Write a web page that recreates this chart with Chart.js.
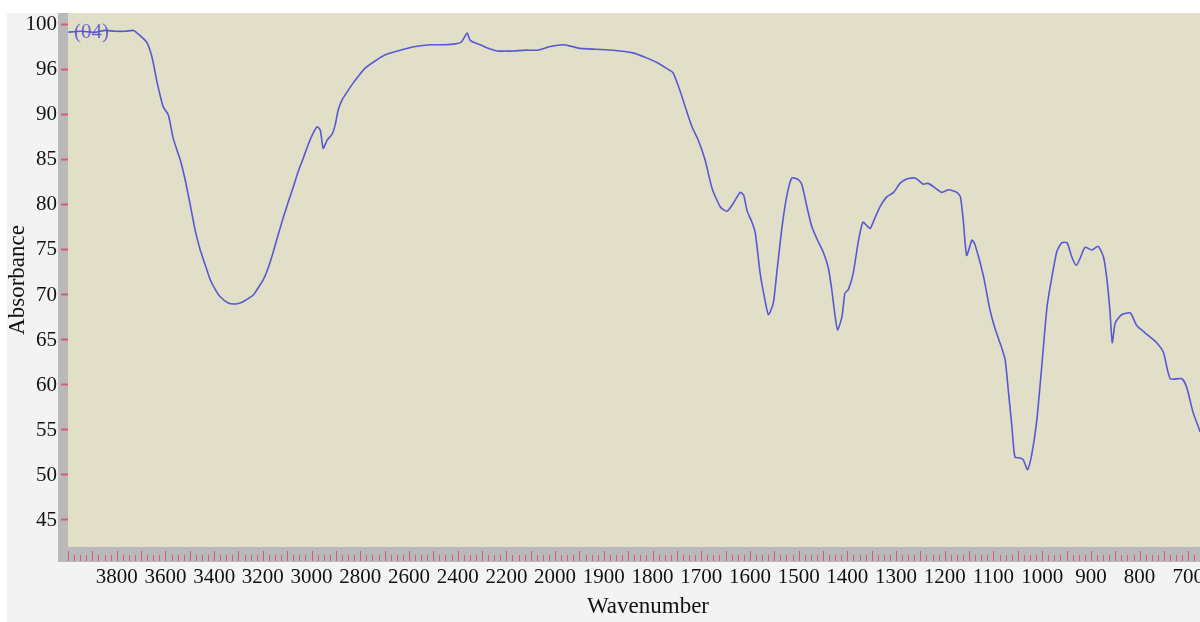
<!DOCTYPE html>
<html>
<head>
<meta charset="utf-8">
<title>FTIR spectrum (04)</title>
<script src="https://cdn.jsdelivr.net/npm/chart.js@4.4.1/dist/chart.umd.min.js"></script>
<style>
  html, body { margin: 0; padding: 0; background: #ffffff; }
  #wrap { width: 1200px; height: 622px; position: relative; }
  canvas { display: block; }
</style>
</head>
<body>
<div id="wrap"><canvas id="spectrum" width="1200" height="622"></canvas></div>
<script>
// Spectrum (04): wavenumber in cm-1, absorbance reading
const wavenumbers = [
  3998, 3950, 3888, 3847, 3806, 3765, 3732, 3716, 3695, 3675, 3654, 3634, 3609, 3588, 3568,
  3539, 3519, 3498, 3478, 3457, 3436, 3416, 3395, 3375, 3342, 3313, 3285, 3260, 3239, 3219,
  3198, 3178, 3157, 3137, 3116, 3096, 3075, 3055, 3034, 3014, 2993, 2977, 2964, 2952, 2936,
  2915, 2903, 2890, 2874, 2853, 2833, 2808, 2780, 2739, 2697, 2636, 2574, 2513, 2451, 2410,
  2385, 2373, 2361, 2349, 2328, 2307, 2275, 2238, 2205, 2172, 2123, 2073, 2020, 1983, 1965,
  1948, 1918, 1881, 1840, 1815, 1790, 1772, 1758, 1743, 1731, 1719, 1706, 1692, 1678, 1661,
  1647, 1634, 1620, 1613, 1606, 1596, 1589, 1579, 1569, 1562, 1552, 1545, 1534, 1524, 1514,
  1500, 1493, 1483, 1473, 1463, 1449, 1439, 1432, 1425, 1420, 1411, 1405, 1398, 1388, 1377,
  1368, 1360, 1353, 1343, 1333, 1319, 1305, 1292, 1278, 1261, 1251, 1244, 1234, 1220, 1206,
  1192, 1175, 1168, 1162, 1155, 1144, 1138, 1121, 1107, 1097, 1083, 1076, 1069, 1062, 1056,
  1045, 1039, 1030, 1021, 1011, 1001, 990, 980, 970, 960, 949, 939, 930, 922, 912,
  898, 885, 874, 867, 861, 856, 850, 837, 819, 806, 789, 765, 751, 737, 713,
  703, 690, 679, 676
];
const absorbance = [
  99.2, 99.3, 99.2, 99.4, 99.3, 99.3, 99.4, 99.1, 98.6, 98.0, 96.3, 93.6, 90.9, 90.0, 87.4,
  85.0, 82.8, 80.0, 77.2, 75.0, 73.3, 71.7, 70.6, 69.8, 69.1, 69.0, 69.2, 69.6, 70.0, 70.8,
  71.7, 73.0, 74.8, 76.7, 78.6, 80.3, 82.0, 83.7, 85.2, 86.7, 88.0, 88.7, 88.3, 86.3, 87.2,
  87.9, 88.9, 90.6, 91.7, 92.6, 93.4, 94.3, 95.2, 96.0, 96.7, 97.2, 97.6, 97.8, 97.8, 97.9,
  98.1, 98.6, 99.1, 98.3, 98.0, 97.8, 97.4, 97.1, 97.1, 97.1, 97.2, 97.2, 97.6, 97.8, 97.6,
  97.4, 97.3, 97.2, 96.9, 96.4, 95.8, 95.2, 94.7, 92.6, 90.6, 88.7, 87.2, 85.0, 81.9, 79.8,
  79.3, 80.2, 81.4, 81.1, 79.4, 78.1, 76.9, 72.4, 69.4, 67.8, 69.1, 72.4, 77.6, 81.1, 83.0,
  82.8, 82.2, 79.8, 77.6, 76.3, 74.7, 73.0, 70.6, 67.6, 66.1, 67.6, 70.2, 70.6, 72.4, 76.1,
  78.1, 77.7, 77.4, 78.6, 79.8, 80.9, 81.4, 82.4, 82.9, 83.0, 82.6, 82.3, 82.4, 81.9, 81.4,
  81.7, 81.4, 80.9, 78.3, 74.4, 76.1, 75.6, 72.2, 68.3, 66.3, 64.1, 62.8, 59.1, 55.3, 52.0,
  51.9, 51.7, 50.6, 52.4, 56.1, 62.0, 68.7, 72.0, 74.8, 75.8, 75.8, 74.2, 73.3, 74.1, 75.3,
  75.0, 75.4, 74.2, 71.7, 68.3, 64.7, 66.9, 67.8, 68.0, 66.6, 65.8, 64.7, 63.6, 60.7, 60.7,
  59.7, 56.9, 55.3, 54.8
];

// Axis tick labels
const xTickValues = [3800, 3600, 3400, 3200, 3000, 2800, 2600, 2400, 2200, 2000, 1900, 1800,
                     1700, 1600, 1500, 1400, 1300, 1200, 1100, 1000, 900, 800, 700];
const yTickValues = [45, 50, 55, 60, 65, 70, 75, 80, 85, 90, 95, 100];
const yTickLabels = ['45', '50', '55', '60', '65', '70', '75', '80', '85', '90', '96', '100'];
const sampleTag = '(04)';
const xTitle = 'Wavenumber';
const yTitle = 'Absorbance';

// Wavenumber axis: below the break point each unit gets twice the room of the units above it
const AXIS_BREAK = 2000;
function toAxisUnits(w) { return w <= AXIS_BREAK ? AXIS_BREAK - w : (AXIS_BREAK - w) / 2; }
function fromAxisUnits(u) { return u >= 0 ? AXIS_BREAK - u : AXIS_BREAK - 2 * u; }

class WavenumberScale extends Chart.LinearScale {
  getPixelForValue(value) {
    if (value === null || value === undefined) return NaN;
    return super.getPixelForValue(toAxisUnits(value));
  }
  getValueForPixel(pixel) {
    return fromAxisUnits(super.getValueForPixel(pixel));
  }
}
WavenumberScale.id = 'wavenumber';
WavenumberScale.defaults = Chart.LinearScale.defaults;
Chart.register(WavenumberScale);

const SERIF = "'Liberation Serif', 'DejaVu Serif', serif";
const PANEL = '#f3f3f3';
const PLOT_BG = '#e2dfc8';
const FRAME = '#b9b9b9';
const TICK_RED = '#d8587a';
const LINE_BLUE = 'rgb(88, 88, 212)';

// Tick values for the red ruler under the plot
const rulerTicks = [];
for (let w = 4000; w > AXIS_BREAK; w -= 25) rulerTicks.push({ w, major: w % 100 === 0 });
for (let w = AXIS_BREAK; w >= 650; w -= 12.5) rulerTicks.push({ w, major: w % 50 === 0 });

const framePlugin = {
  id: 'frame',
  beforeDraw(chart) {
    const { ctx, chartArea: a, width, height } = chart;
    ctx.save();
    ctx.fillStyle = '#ffffff';
    ctx.fillRect(0, 0, width, height);
    ctx.fillStyle = PANEL;
    ctx.fillRect(7, a.top, width - 7, height - a.top);
    ctx.fillStyle = PLOT_BG;
    ctx.fillRect(a.left, a.top, a.right - a.left, a.bottom - a.top);
    ctx.fillStyle = FRAME;
    ctx.fillRect(a.left - 10, a.top, 10, a.bottom - a.top + 15);
    ctx.fillRect(a.left - 10, a.bottom, a.right - a.left + 10, 15);
    ctx.restore();
  },
  beforeDatasetsDraw(chart) {
    const { ctx, chartArea: a, scales } = chart;
    const x = scales.x;
    ctx.save();
    ctx.strokeStyle = TICK_RED;
    ctx.lineWidth = 1;
    ctx.beginPath();
    rulerTicks.forEach(t => {
      const px = Math.round(x.getPixelForValue(t.w)) + 0.5;
      if (px < a.left || px > a.right) return;
      ctx.moveTo(px, a.bottom + (t.major ? 4 : 8));
      ctx.lineTo(px, a.bottom + 14);
    });
    ctx.stroke();
    // axis caption centred under the full wavenumber span
    ctx.fillStyle = '#111111';
    ctx.font = "23px " + SERIF;
    ctx.textAlign = 'center';
    ctx.textBaseline = 'middle';
    ctx.fillText(xTitle, 648, 607);
    ctx.restore();
  },
  afterDatasetsDraw(chart) {
    const { ctx, chartArea: a } = chart;
    ctx.save();
    ctx.fillStyle = 'rgba(80, 80, 210, 0.85)';
    ctx.font = "21px " + SERIF;
    ctx.textAlign = 'left';
    ctx.textBaseline = 'middle';
    ctx.fillText(sampleTag, a.left + 6, a.top + 19);
    ctx.restore();
  }
};

const points = wavenumbers.map((w, i) => ({ x: w, y: absorbance[i] }));

new Chart(document.getElementById('spectrum'), {
  type: 'line',
  data: {
    datasets: [{
      label: sampleTag,
      data: points,
      borderColor: LINE_BLUE,
      borderWidth: 1.6,
      pointRadius: 0,
      tension: 0.2,
      fill: false
    }]
  },
  options: {
    responsive: false,
    animation: false,
    devicePixelRatio: 1,
    layout: { padding: { top: 13, left: 0, right: 0, bottom: 0 } },
    plugins: { legend: { display: false }, tooltip: { enabled: false } },
    scales: {
      x: {
        type: 'wavenumber',
        position: 'bottom',
        min: toAxisUnits(4000),
        max: toAxisUnits(676),
        bounds: 'data',
        afterBuildTicks(scale) { scale.ticks = xTickValues.map(v => ({ value: v })); },
        afterFit(scale) { scale.height = 75; scale.paddingLeft = 0; scale.paddingRight = 0; },
        grid: { display: false, drawTicks: false },
        border: { display: false },
        ticks: {
          autoSkip: false, maxRotation: 0, minRotation: 0, padding: 18,
          color: '#111111', font: { family: SERIF, size: 21 },
          callback: v => String(v)
        }
      },
      y: {
        type: 'linear',
        position: 'left',
        min: 42,
        max: 101.33,
        bounds: 'data',
        afterBuildTicks(scale) { scale.ticks = yTickValues.map(v => ({ value: v })); },
        afterFit(scale) { scale.width = 68; scale.paddingTop = 0; scale.paddingBottom = 0; },
        grid: {
          display: true, drawOnChartArea: false, drawTicks: true,
          tickLength: 7, tickWidth: 2, tickColor: TICK_RED
        },
        border: { display: false },
        title: {
          display: true, text: yTitle, color: '#111111',
          font: { family: SERIF, size: 23 }, padding: { top: 4, bottom: 0 }
        },
        ticks: {
          autoSkip: false, padding: 4,
          color: '#111111', font: { family: SERIF, size: 21 },
          callback: v => yTickLabels[yTickValues.indexOf(v)]
        }
      }
    }
  },
  plugins: [framePlugin]
});
</script>
</body>
</html>
